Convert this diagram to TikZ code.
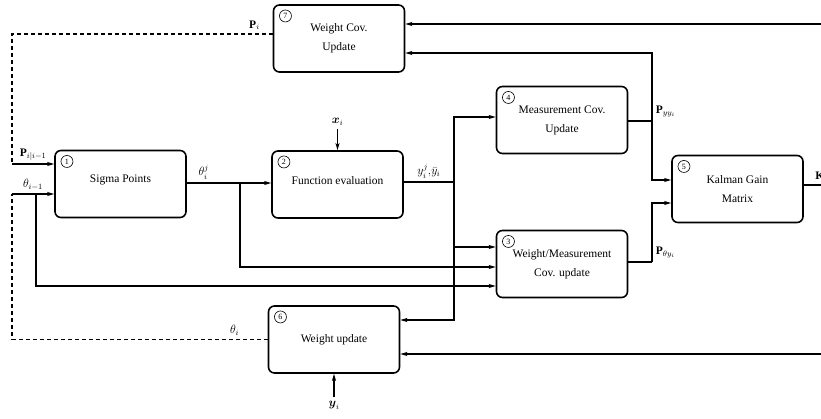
\documentclass[tikz,border=0pt]{standalone}
\usepackage{amsmath}
\usepackage{fontspec}
\setmainfont{Liberation Serif}
\usetikzlibrary{arrows.meta,positioning}

\begin{document}
\begin{tikzpicture}[x=1pt,y=-1pt,
    >={Stealth[length=7pt,width=4pt,inset=1.5pt]},
    block/.style={draw,line width=1.6pt,rounded corners=6pt,minimum width=131pt,
      minimum height=67pt,align=center,font=\fontsize{11.5}{19}\selectfont},
    num/.style={circle,draw,line width=0.6pt,inner sep=0pt,minimum size=12pt,
      font=\fontsize{8}{8}\selectfont},
    lbl/.style={font=\fontsize{11.5}{13}\selectfont},
    wire/.style={line width=1.2pt},
    fb/.style={wire,line width=1.4pt,dash pattern=on 4pt off 3pt}]
  \useasboundingbox (0,0) rectangle (821,418);
  \clip (0,0) rectangle (821,418);

  % blocks
  \node[block] (b7) at (339,38.5) {Weight Cov.\\Update};
  \node[block,text depth=10pt] (b1) at (120.5,184) {Sigma Points};
  \node[block,text depth=7pt] (b2) at (337.5,184.5) {Function evaluation};
  \node[block] (b4) at (562,120) {Measurement Cov.\\Update};
  \node[block] (b5) at (737.5,189) {Kalman Gain\\Matrix};
  \node[block] (b3) at (562,264) {Weight/Measurement\\Cov. update};
  \node[block] (b6) at (334,339.5) {Weight update};

  \foreach \b/\n in {b1/1,b2/2,b3/3,b4/4,b5/5,b6/6,b7/7}
    \node[num,below right=7.3pt and 8.3pt of \b.north west] {\n};

  % junctions
  \coordinate (pl) at (12,34);
  \coordinate (pin) at (12,164);
  \coordinate (tin) at (12,194);
  \coordinate (tbr) at (36,194);
  \coordinate (tlow) at (36,286);
  \coordinate (sj) at (240,183);
  \coordinate (sjl) at (240,267);
  \coordinate (yj) at (454,182);
  \coordinate (ytop) at (454,117);
  \coordinate (ymid) at (454,247);
  \coordinate (ybot) at (454,320);
  \coordinate (pyy) at (652,121);
  \coordinate (ptop) at (652,53);
  \coordinate (pk1) at (652,180);
  \coordinate (pty) at (652,262);
  \coordinate (pk2) at (652,203);
  \coordinate (rin1) at (821,24);
  \coordinate (rin2) at (821,354);
  \coordinate (kout) at (821,185);

  \node[lbl] (xi) at (337.5,122) {$\boldsymbol{x}_i$};
  \node[lbl] (yi) at (334,405) {$\boldsymbol{y}_i$};

  % feedback
  \draw[fb] (b7.west |- pl) -- node[lbl,pos=0.07,above]{$\mathbf{P}_i$} (pl) -- (pin);
  \draw[fb] (b6.west) -- node[lbl,pos=0.13,above]{$\theta_i$} (b6.west -| tin) -- (tin);

  % inputs
  \draw[wire,->] (pin) -- node[lbl,above]{$\mathbf{P}_{i|i-1}$} (b1.west |- pin);
  \draw[wire,->] (tin) -- node[lbl,above]{$\theta_{i-1}$} (b1.west |- tin);
  \draw[wire,->] (tbr) -- (tlow) -- (b3.west |- tlow);
  \draw[wire,->] (b1.east |- sj) -- node[lbl,pos=0.2,above]{$\theta_i^j$} (b2.west |- sj);
  \draw[wire,->] (sj) -- (sjl) -- (b3.west |- sjl);
  \draw[wire,->] (xi) -- (b2.north);
  \draw[wire,->] (yi) -- (b6.south);

  % outputs of function evaluation
  \draw[wire] (b2.east |- yj) -- node[lbl,above]{$y_i^j{,}\bar{y}_i$} (yj);
  \draw[wire,->] (yj) -- (ytop) -- (b4.west |- ytop);
  \draw[wire,->] (yj) -- (ybot) -- (b6.east |- ybot);
  \draw[wire,->] (ymid) -- (b3.west |- ymid);

  % covariances
  \draw[wire] (b4.east |- pyy) -- (pyy) node[lbl,above right]{$\mathbf{P}_{yy_i}$};
  \draw[wire,->] (pyy) -- (ptop) -- (b7.east |- ptop);
  \draw[wire,->] (pyy) -- (pk1) -- (b5.west |- pk1);
  \draw[wire] (b3.east |- pty) -- (pty) node[lbl,above right]{$\mathbf{P}_{\theta y_i}$};
  \draw[wire,->] (pty) -- (pk2) -- (b5.west |- pk2);

  % right side
  \draw[wire,->] (rin1) -- (b7.east |- rin1);
  \draw[wire,->] (rin2) -- (b6.east |- rin2);
  \draw[wire] (b5.east |- kout) -- node[lbl,pos=0.5,anchor=south west,xshift=-1pt]{$\mathbf{K}_i$} (kout);
\end{tikzpicture}
\end{document}
